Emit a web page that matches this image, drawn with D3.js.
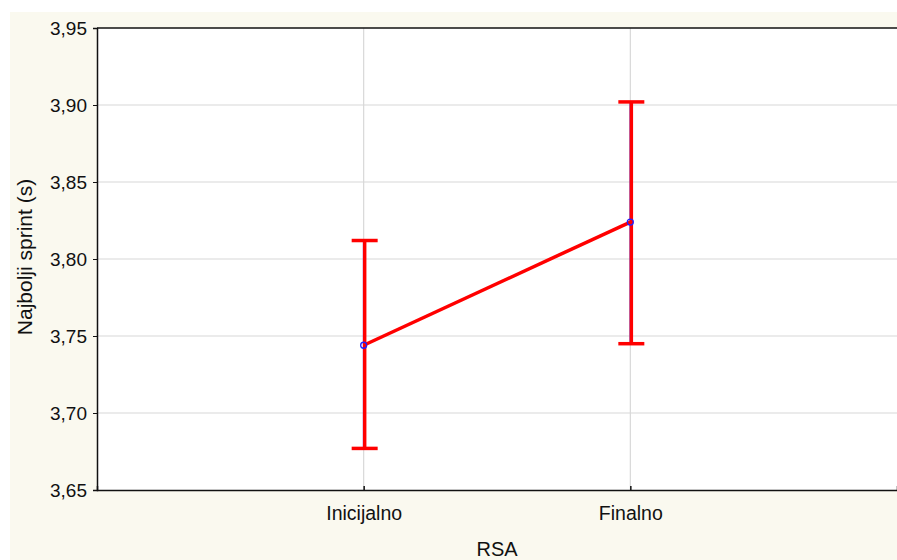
<!DOCTYPE html>
<html><head><meta charset="utf-8">
<script src="https://cdn.jsdelivr.net/npm/d3@7"></script>
<style>body{margin:0;background:#fff}svg{display:block}text{font-family:"Liberation Sans",Arial,sans-serif;fill:#111}</style>
</head><body>
<script>
const categories = ["Inicijalno", "Finalno"];
const means = [3.744, 3.824];
const upper = [3.812, 3.902];
const lower = [3.677, 3.745];
const yTicks = [3.65, 3.70, 3.75, 3.80, 3.85, 3.90, 3.95];
const yLabel = "Najbolji sprint (s)";
const xLabel = "RSA";

const W = 897, H = 560;
const m = {left: 97, right: 0, top: 28, bottom: 70};
const svg = d3.select("body").append("svg").attr("width", W).attr("height", H);
svg.append("rect").attr("x", 10).attr("y", 12).attr("width", W - 10).attr("height", H - 12).attr("fill", "#faf9ef");
svg.append("rect").attr("x", m.left).attr("y", m.top).attr("width", W - m.left + 2).attr("height", H - m.bottom - m.top).attr("fill", "#ffffff");

const x = d3.scalePoint().domain(categories).range([m.left, W - m.right]).padding(1);
const y = d3.scaleLinear().domain([3.65, 3.95]).range([H - m.bottom, m.top]);
const fmt = d => d3.format(".2f")(d).replace(".", ",");

// grid
svg.append("g").selectAll("line").data(yTicks.slice(1, -1)).join("line")
  .attr("x1", m.left).attr("x2", W).attr("y1", d => y(d)).attr("y2", d => y(d))
  .attr("stroke", "#d8d8d8").attr("stroke-width", 1.2);
svg.append("g").selectAll("line").data(categories).join("line")
  .attr("x1", d => x(d)).attr("x2", d => x(d)).attr("y1", m.top).attr("y2", H - m.bottom)
  .attr("stroke", "#d8d8d8").attr("stroke-width", 1.2);

// axes
const ya = svg.append("g").attr("transform", `translate(${m.left},0)`)
  .call(d3.axisLeft(y).tickValues(yTicks).tickFormat(fmt).tickSize(4).tickPadding(6));
ya.select(".domain").attr("stroke", "#111").attr("stroke-width", 1.5);
ya.selectAll(".tick line").attr("stroke", "#111");
ya.selectAll(".tick text").style("font-size", "19px").style("font-family", "'Liberation Sans',Arial,sans-serif");

const xa = svg.append("g").attr("transform", `translate(0,${H - m.bottom})`)
  .call(d3.axisBottom(x).tickSize(-4).tickPadding(16));
xa.select(".domain").attr("stroke", "#111").attr("stroke-width", 1.5);
xa.selectAll(".tick line").attr("stroke", "#111").attr("stroke-width", 1.5);
xa.selectAll(".tick text").style("font-size", "19.5px").style("font-family", "'Liberation Sans',Arial,sans-serif");

svg.append("line").attr("x1", m.left).attr("x2", W).attr("y1", m.top).attr("y2", m.top)
  .attr("stroke", "#111").attr("stroke-width", 1.5);

svg.append("text").attr("transform", `translate(32,${(m.top + H - m.bottom) / 2 - 2}) rotate(-90)`)
  .attr("text-anchor", "middle").style("font-size", "21px").text(yLabel);
svg.append("text").attr("x", (m.left + W) / 2).attr("y", 556)
  .attr("text-anchor", "middle").style("font-size", "20px").text(xLabel);

// error bars
const data = categories.map((c, i) => ({c, m: means[i], u: upper[i], l: lower[i]}));
const g = svg.append("g");
g.selectAll(".blu").data(data).join("line")
  .attr("x1", d => x(d.c) - 0.3).attr("x2", d => x(d.c) - 0.3)
  .attr("y1", d => y(d.u)).attr("y2", d => y(d.l)).attr("stroke", "#3030ff").attr("stroke-width", 1);
g.selectAll(".v").data(data).join("line")
  .attr("x1", d => x(d.c) + 1).attr("x2", d => x(d.c) + 1)
  .attr("y1", d => y(d.u)).attr("y2", d => y(d.l)).attr("stroke", "#ff0000").attr("stroke-width", 3.5);
["u", "l"].forEach(k => {
  g.selectAll(".c" + k).data(data).join("line")
    .attr("x1", d => x(d.c) - 12).attr("x2", d => x(d.c) + 14)
    .attr("y1", d => y(d[k])).attr("y2", d => y(d[k])).attr("stroke", "#ff0000").attr("stroke-width", 3.5);
});
svg.append("path").datum(data)
  .attr("d", d3.line().x(d => x(d.c)).y(d => y(d.m)))
  .attr("fill", "none").attr("stroke", "#ff0000").attr("stroke-width", 3.5);
svg.append("g").selectAll("circle").data(data).join("circle")
  .attr("cx", d => x(d.c)).attr("cy", d => y(d.m)).attr("r", 3)
  .attr("fill", "none").attr("stroke", "#2020ff").attr("stroke-width", 1.3);
</script>
</body></html>
